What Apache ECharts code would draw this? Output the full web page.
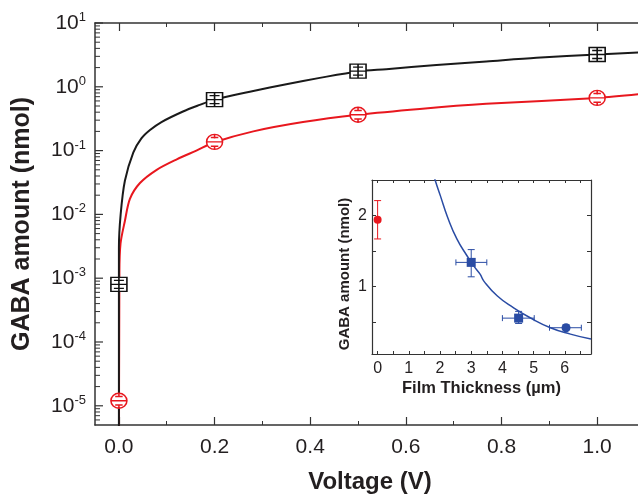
<!DOCTYPE html>
<html><head><meta charset="utf-8">
<script src="https://cdn.jsdelivr.net/npm/echarts@6/dist/echarts.min.js"></script>
<style>html,body{margin:0;padding:0;background:#fff}#c{width:638px;height:495px}</style>
</head><body><div id="c"></div>
<script>
// ---- Main chart data (Voltage vs GABA amount, log scale) ----
const blackCurveV = [0, 0, 0.0036, 0.0125, 0.030, 0.047, 0.065, 0.089, 0.134, 0.169, 0.2, 0.281, 0.35, 0.42, 0.5, 0.559, 0.664, 0.768, 0.873, 1.0, 1.1];
const blackCurveY = [1e-7, 0.003, 0.0099, 0.0336, 0.093, 0.155, 0.21, 0.28, 0.41, 0.52, 0.63, 0.86, 1.1, 1.38, 1.74, 1.89, 2.2, 2.5, 2.85, 3.2, 3.5];
const redCurveV = [0, 0.001, 0.0034, 0.0125, 0.023, 0.044, 0.079, 0.121, 0.162, 0.2, 0.281, 0.385, 0.5, 0.629, 0.768, 1.0, 1.1];
const redCurveY = [1e-7, 0.0012, 0.0035, 0.0079, 0.0175, 0.031, 0.050, 0.073, 0.100, 0.135, 0.2, 0.28, 0.364, 0.45, 0.54, 0.67, 0.78];
const pointV = [0, 0.2, 0.5, 1.0];
const blackPointY = [8e-4, 0.63, 1.76, 3.2];
const redPointY = [1.2e-5, 0.137, 0.364, 0.67];
const xMajorTicks = [0, 0.2, 0.4, 0.6, 0.8, 1.0];
const xMinorTicks = [0.1, 0.3, 0.5, 0.7, 0.9];
const yMajorTicks = [1e-5, 1e-4, 1e-3, 1e-2, 1e-1, 1, 10];
const yMinorMantissa = [2, 3, 4, 5, 6, 7, 8, 9];
const yDecades = [-6, -5, -4, -3, -2, -1, 0];

// ---- Inset data (Film thickness vs GABA amount) ----
const insetCurveX = [1.78, 1.85, 2.01, 2.24, 2.54, 2.87, 3.08, 3.29, 3.40, 3.83, 4.36, 4.89, 5.54, 6.18, 6.84];
const insetCurveY = [2.6, 2.49, 2.28, 1.98, 1.67, 1.43, 1.29, 1.17, 1.08, 0.87, 0.70, 0.56, 0.42, 0.33, 0.26];
const insetRedX = [0];
const insetRedY = [1.94];
const insetRedYLow = [1.67];
const insetRedYHigh = [2.21];
const insetSqX = [3, 4.52];
const insetSqY = [1.34, 0.555];
const insetCircX = [6.04];
const insetCircY = [0.42];
const insetBlueErrX = [3, 4.52, 6.04];
const insetBlueErrY = [1.34, 0.555, 0.42];
const insetBlueXLow = [2.51, 4.0, 5.51];
const insetBlueXHigh = [3.5, 5.02, 6.53];
const insetBlueYLow = [1.137, 0.48, 0.39];
const insetBlueYHigh = [1.52, 0.65, 0.46];
const insetXTicks = [0, 0.5, 1, 1.5, 2, 2.5, 3, 3.5, 4, 4.5, 5, 5.5, 6, 6.5];
const insetXLabels = [0, 1, 2, 3, 4, 5, 6];
const insetYTicks = [0.5, 1, 1.5, 2];
const insetYLabels = [1, 2];

const FONT = "'Liberation Sans', Arial, Helvetica, sans-serif";
const TXT = '#231f20';
const AX = '#333333';
const RED = '#e8171e';
const BLUE = '#2a4ca4';
const X_MIN = -0.05, X_MAX = 1.1;

const yMinorTicks = [];
yDecades.forEach(e => yMinorMantissa.forEach(m => { const v = m * Math.pow(10, e); if (v > 5e-6 && v < 10) yMinorTicks.push(v); }));
const yTickItems = yMajorTicks.map(v => [X_MIN, v, 8]).concat(yMinorTicks.map(v => [X_MIN, v, 5]));

const chart = echarts.init(document.getElementById('c'), null, {renderer: 'canvas'});

function zip(a, b) { return a.map((v, i) => [v, b[i]]); }

const sqPath = 'path://M0,0H16V14H0Z M0,7H16 M8,0V14 M3,3H13 M3,11H13';
const cirPath = 'path://M0,7.5A7.5,7.5 0 1 1 15,7.5A7.5,7.5 0 1 1 0,7.5Z M0,7.5H15 M7.5,0V4 M7.5,11V15 M4,3.2H11 M4,11.8H11';

function logLabel(v) {
  const e = Math.round(Math.log10(v));
  if (Math.abs(v / Math.pow(10, e) - 1) > 1e-6) return '';
  return '{b|10}{s|' + e + '}';
}

function insetErrRender(params, api) {
  const i = params.dataIndex;
  const isRed = params.seriesName === 'insetRedErr';
  const children = [];
  const col = isRed ? RED : BLUE;
  const x = isRed ? insetRedX[i] : insetBlueErrX[i];
  const yl = isRed ? insetRedYLow[i] : insetBlueYLow[i];
  const yh = isRed ? insetRedYHigh[i] : insetBlueYHigh[i];
  const y = isRed ? insetRedY[i] : insetBlueErrY[i];
  const st = {stroke: col, lineWidth: 1};
  const a = api.coord([x, yl]), b = api.coord([x, yh]);
  children.push({type: 'line', shape: {x1: a[0], y1: a[1], x2: b[0], y2: b[1]}, style: st});
  children.push({type: 'line', shape: {x1: a[0] - 3.5, y1: a[1], x2: a[0] + 3.5, y2: a[1]}, style: st});
  children.push({type: 'line', shape: {x1: b[0] - 3.5, y1: b[1], x2: b[0] + 3.5, y2: b[1]}, style: st});
  if (!isRed) {
    const c = api.coord([insetBlueXLow[i], y]), d = api.coord([insetBlueXHigh[i], y]);
    children.push({type: 'line', shape: {x1: c[0], y1: c[1], x2: d[0], y2: d[1]}, style: st});
    children.push({type: 'line', shape: {x1: c[0], y1: c[1] - 3, x2: c[0], y2: c[1] + 3}, style: st});
    children.push({type: 'line', shape: {x1: d[0], y1: d[1] - 3, x2: d[0], y2: d[1] + 3}, style: st});
  }
  return {type: 'group', children};
}

const option = {
  animation: false,
  backgroundColor: '#fff',
  textStyle: {fontFamily: FONT, color: TXT},
  grid: [
    {left: 95, top: 23, right: -7, bottom: 70, containLabel: false, outerBoundsMode: 'none'},
    {left: 372, top: 180, right: 47, bottom: 141, containLabel: false, outerBoundsMode: 'none'}
  ],
  xAxis: [
    { // 0 main bottom
      type: 'value', gridIndex: 0, position: 'bottom', min: X_MIN, max: X_MAX,
      axisLine: {show: true, onZero: false, lineStyle: {color: AX, width: 1.5}},
      axisTick: {show: true, inside: true, length: 8, customValues: xMajorTicks, lineStyle: {color: AX, width: 1.2}},
      axisLabel: {show: true, customValues: xMajorTicks, margin: 12, fontSize: 21, color: TXT, fontFamily: FONT,
        formatter: v => v.toFixed(1)},
      splitLine: {show: false},
      name: 'Voltage (V)', nameLocation: 'middle', nameGap: 45,
      nameTextStyle: {fontSize: 24, fontWeight: 'bold', color: TXT, fontFamily: FONT}
    },
    { // 1 main bottom minor
      type: 'value', gridIndex: 0, position: 'bottom', min: X_MIN, max: X_MAX,
      axisLine: {show: false, onZero: false},
      axisTick: {show: true, inside: true, length: 4, customValues: xMinorTicks, lineStyle: {color: AX, width: 1}},
      axisLabel: {show: false}, splitLine: {show: false}
    },
    { // 2 main top
      type: 'value', gridIndex: 0, position: 'top', min: X_MIN, max: X_MAX,
      axisLine: {show: true, onZero: false, lineStyle: {color: AX, width: 1.5}},
      axisTick: {show: true, inside: true, length: 8, customValues: xMajorTicks, lineStyle: {color: AX, width: 1.2}},
      axisLabel: {show: false}, splitLine: {show: false}
    },
    { // 3 main top minor
      type: 'value', gridIndex: 0, position: 'top', min: X_MIN, max: X_MAX,
      axisLine: {show: false, onZero: false},
      axisTick: {show: true, inside: true, length: 4, customValues: xMinorTicks, lineStyle: {color: AX, width: 1}},
      axisLabel: {show: false}, splitLine: {show: false}
    },
    { // 4 inset bottom
      type: 'value', gridIndex: 1, position: 'bottom', min: -0.18, max: 6.84,
      axisLine: {show: true, onZero: false, lineStyle: {color: AX, width: 1.2}},
      axisTick: {show: true, inside: true, length: 3, customValues: insetXTicks, lineStyle: {color: AX, width: 1}},
      axisLabel: {show: true, customValues: insetXLabels, margin: 7, fontSize: 16, color: TXT, fontFamily: FONT},
      splitLine: {show: false},
      name: 'Film Thickness (µm)', nameLocation: 'middle', nameGap: 26,
      nameTextStyle: {fontSize: 16.5, fontWeight: 'bold', color: TXT, fontFamily: FONT}
    },
    { // 5 inset top
      type: 'value', gridIndex: 1, position: 'top', min: -0.18, max: 6.84,
      axisLine: {show: true, onZero: false, lineStyle: {color: AX, width: 1.2}},
      axisTick: {show: true, inside: true, length: 3, customValues: insetXTicks, lineStyle: {color: AX, width: 1}},
      axisLabel: {show: false}, splitLine: {show: false}
    }
  ],
  yAxis: [
    { // 0 main log
      type: 'log', logBase: 10, gridIndex: 0, position: 'left', min: 5e-6, max: 10,
      axisLine: {show: true, onZero: false, lineStyle: {color: AX, width: 1.5}},
      axisTick: {show: false},
      axisLabel: {show: true, margin: 9, formatter: logLabel,
        rich: {
          b: {fontSize: 21, color: TXT, fontFamily: FONT, lineHeight: 24},
          s: {fontSize: 13, color: TXT, fontFamily: FONT, verticalAlign: 'top', lineHeight: 14}
        }},
      splitLine: {show: false}, minorTick: {show: false},
      name: 'GABA amount (nmol)', nameLocation: 'middle', nameGap: 60,
      nameTextStyle: {fontSize: 25, fontWeight: 'bold', color: TXT, fontFamily: FONT}
    },
    { // 1 inset left
      type: 'value', gridIndex: 1, position: 'left', min: 0.05, max: 2.5,
      axisLine: {show: true, onZero: false, lineStyle: {color: AX, width: 1.2}},
      axisTick: {show: true, inside: true, length: 4, customValues: insetYTicks, lineStyle: {color: AX, width: 1}},
      axisLabel: {show: true, customValues: insetYLabels, margin: 5, fontSize: 16, color: TXT, fontFamily: FONT},
      splitLine: {show: false},
      name: 'GABA amount (nmol)', nameLocation: 'middle', nameGap: 20,
      nameTextStyle: {fontSize: 15, fontWeight: 'bold', color: TXT, fontFamily: FONT, padding: [0, 14, 0, 0]}
    },
    { // 2 inset right
      type: 'value', gridIndex: 1, position: 'right', min: 0.05, max: 2.5,
      axisLine: {show: true, onZero: false, lineStyle: {color: AX, width: 1.2}},
      axisTick: {show: true, inside: true, length: 4, customValues: insetYTicks, lineStyle: {color: AX, width: 1}},
      axisLabel: {show: false}, splitLine: {show: false}
    }
  ],
  series: [
    {type: 'line', name: 'redCurve', xAxisIndex: 0, yAxisIndex: 0, data: zip(redCurveV, redCurveY),
      showSymbol: false, smooth: 0.3, lineStyle: {color: RED, width: 2}, z: 2, clip: true},
    {type: 'line', name: 'blackCurve', xAxisIndex: 0, yAxisIndex: 0, data: zip(blackCurveV, blackCurveY),
      showSymbol: false, smooth: 0.3, lineStyle: {color: '#1a1a1a', width: 2}, z: 3, clip: true},
    {type: 'scatter', name: 'blackPts', xAxisIndex: 0, yAxisIndex: 0, data: zip(pointV, blackPointY),
      symbol: sqPath, symbolSize: [16, 14], itemStyle: {color: '#fff', borderColor: '#111', borderWidth: 1.5, opacity: 1}, z: 5},
    {type: 'scatter', name: 'redPts', xAxisIndex: 0, yAxisIndex: 0, data: zip(pointV, redPointY),
      symbol: cirPath, symbolSize: [16, 15], itemStyle: {color: '#fff', borderColor: RED, borderWidth: 1.5, opacity: 1}, z: 5},
    {type: 'custom', name: 'yTicks', xAxisIndex: 0, yAxisIndex: 0, silent: true, z: 6, clip: false,
      data: yTickItems,
      renderItem: function (params, api) {
        const p = api.coord([X_MIN, api.value(1)]);
        const len = api.value(2);
        return {type: 'line', shape: {x1: p[0], y1: p[1], x2: p[0] + len, y2: p[1]},
          style: {stroke: AX, lineWidth: len > 6 ? 1.2 : 1}};
      }},
    {type: 'line', name: 'insetCurve', xAxisIndex: 4, yAxisIndex: 1, data: zip(insetCurveX, insetCurveY),
      showSymbol: false, smooth: true, lineStyle: {color: BLUE, width: 1.5}, z: 3, clip: true},
    {type: 'custom', name: 'insetRedErr', xAxisIndex: 4, yAxisIndex: 1, silent: true, z: 4,
      data: zip(insetRedX, insetRedY), renderItem: insetErrRender},
    {type: 'custom', name: 'insetBlueErr', xAxisIndex: 4, yAxisIndex: 1, silent: true, z: 4,
      data: zip(insetBlueErrX, insetBlueErrY), renderItem: insetErrRender},
    {type: 'scatter', name: 'insetRed', xAxisIndex: 4, yAxisIndex: 1, data: zip(insetRedX, insetRedY),
      symbol: 'circle', symbolSize: 8, itemStyle: {color: RED, opacity: 1}, z: 5},
    {type: 'scatter', name: 'insetSq', xAxisIndex: 4, yAxisIndex: 1, data: zip(insetSqX, insetSqY),
      symbol: 'rect', symbolSize: 9, itemStyle: {color: BLUE, opacity: 1}, z: 5},
    {type: 'scatter', name: 'insetCirc', xAxisIndex: 4, yAxisIndex: 1, data: zip(insetCircX, insetCircY),
      symbol: 'circle', symbolSize: 9, itemStyle: {color: BLUE, opacity: 1}, z: 5}
  ]
};
chart.setOption(option);
</script>
</body></html>
